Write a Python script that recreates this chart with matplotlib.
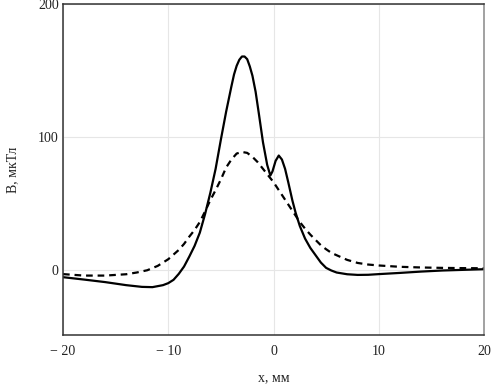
import matplotlib
matplotlib.use("Agg")
import matplotlib.pyplot as plt
from matplotlib.ticker import FixedLocator, FixedFormatter

# Solid curve
x_solid = [-20, -18, -16, -14, -12.5, -11.5, -10.5, -10, -9.5, -9, -8.5, -8, -7.5, -7,
           -6.5, -6, -5.5, -5, -4.5, -4, -3.75, -3.5, -3.25, -3.0, -2.75, -2.5, -2.25,
           -2.0, -1.7, -1.4, -1.0, -0.6, -0.3, -0.1, 0.2, 0.5, 0.8, 1.1, 1.4, 1.8, 2.1,
           2.5, 3.0, 3.5, 4.0, 4.5, 5.0, 5.5, 6.0, 7.0, 8.0, 9.0, 10, 12, 14, 16, 18, 20]
y_solid = [-5.5, -7.3, -9.2, -11.5, -12.8, -13, -11.5, -10, -7.5, -3, 2.5, 10, 18, 28,
           42, 58, 76, 98, 119, 138, 147, 153.5, 158, 160.5, 160.5, 158.5, 153,
           146, 134, 118, 96, 79, 71, 74, 82, 86, 83, 76, 66, 52, 43,
           33, 23.5, 16.5, 11, 5.5, 1.5, -0.5, -2, -3.3, -3.8, -3.7, -3.2, -2.3, -1.3, -0.5, 0, 0.5]

# Dashed curve
x_dash = [-20, -18, -16, -14, -13, -12, -11, -10, -9, -8.5, -8, -7.5, -7, -6.5, -6, -5.5,
          -5, -4.5, -4, -3.5, -3, -2.5, -2, -1.5, -1, -0.5, 0, 0.5, 1, 1.5, 2, 2.5, 3,
          3.5, 4, 4.5, 5, 5.5, 6, 7, 8, 9, 10, 12, 14, 16, 18, 20]
y_dash = [-3.2, -4.3, -4.3, -3.3, -2, -0.3, 3, 8, 15, 19.5, 25, 30, 36, 44, 52.5, 60,
          68, 77, 83, 87.5, 88.7, 88, 85, 81, 76, 71, 66, 60, 54, 48, 42, 36, 31,
          26.5, 22.5, 18.5, 15.5, 12.8, 11, 7.5, 5.2, 4, 3.3, 2.3, 1.8, 1.5, 1.3, 1.2]

x_ticks = [-20, -10, 0, 10, 20]
x_ticklabels = ["\u2212 20", "\u2212 10", "0", "10", "20"]
y_ticks = [0, 100, 200]
y_ticklabels = ["0", "100", "200"]
x_label = "x, мм"
y_label = "B, мкТл"

plt.rcParams['font.family'] = ['Liberation Serif', 'DejaVu Serif']

fig = plt.figure(figsize=(4.96, 3.84), dpi=100)
ax = fig.add_axes([63/496, 1-335/384, (484-63)/496, (335-4)/384])

ax.plot(x_solid, y_solid, color='black', lw=1.6, solid_joinstyle='round')
ax.plot(x_dash, y_dash, color='black', lw=1.6, linestyle=(0, (3, 2.2)))

ax.set_xlim(-20, 20)
ax.set_ylim(-49, 200)
ax.xaxis.set_major_locator(FixedLocator(x_ticks))
ax.xaxis.set_major_formatter(FixedFormatter(x_ticklabels))
ax.yaxis.set_major_locator(FixedLocator(y_ticks))
ax.yaxis.set_major_formatter(FixedFormatter(y_ticklabels))
ax.tick_params(length=0, labelsize=10, colors='#222222')
ax.tick_params(axis='x', pad=7)
ax.tick_params(axis='y', pad=3)
ax.grid(True, color='#e6e6e6', lw=0.8)
ax.set_axisbelow(True)

for s in ['left', 'bottom', 'top']:
    ax.spines[s].set_color('#333333')
    ax.spines[s].set_linewidth(1.1)
ax.spines['right'].set_color('#888888')
ax.spines['right'].set_linewidth(1.1)

fig.text(273.5/496, 1-378/384, x_label, ha='center', va='center', fontsize=10, color='#222222')
fig.text(13/496, 1-170/384, y_label, ha='center', va='center', rotation=90, fontsize=10, color='#222222')

fig.savefig('out.png', dpi=100)
